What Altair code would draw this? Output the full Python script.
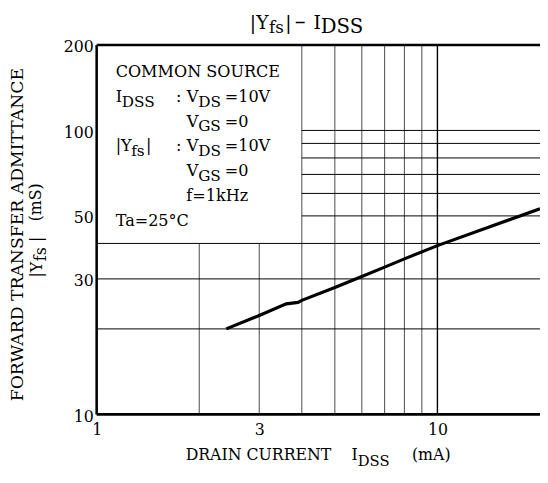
import altair as alt
import pandas as pd

# ---- data ----
idss = [2.4, 3.0, 3.6, 3.9, 4.0, 5.0, 6.0, 7.0, 8.0, 10.0, 20.0]
yfs = [20.0, 22.3, 24.5, 24.8, 25.2, 28.0, 30.6, 33.0, 35.3, 39.3, 53.0]

x_ticks = [1, 3, 10]
y_ticks = [10, 30, 50, 100, 200]
x_domain = [1, 20]
y_domain = [10, 200]

# grid structure
vgrid_short_x = [2, 3]          # from 10 up to 40 mS
vgrid_full_x = [4, 5, 6, 7, 8, 9]
vgrid_main_x = [10]
hgrid_full_y = [20, 30, 40]     # across the whole width
hgrid_part_y = [50, 60, 70, 80, 90, 100]  # from 4 mA to the right

FONT = "DejaVu Serif"
X0, Y0 = 98, 42  # page position of the plot origin
W, H = 450, 375

xs = alt.Scale(type="log", domain=x_domain, nice=False)
ys = alt.Scale(type="log", domain=y_domain, nice=False)
xaxis = alt.Axis(values=x_ticks, title=None, grid=False, domain=False, ticks=False,
                 labelFont=FONT, labelFontSize=16, labelColor="black", labelPadding=7,
                 labelFlush=False, labelOverlap=False, format="~g")
yaxis = alt.Axis(values=y_ticks, title=None, grid=False, domain=False, ticks=False,
                 labelFont=FONT, labelFontSize=16, labelColor="black", labelPadding=3.5,
                 labelBaseline="middle", labelOffset=2, labelFlush=False,
                 labelOverlap=False, format="~g")


def X(f):
    return alt.X(f, type="quantitative", scale=xs, axis=xaxis)


def Y(f):
    return alt.Y(f, type="quantitative", scale=ys, axis=yaxis)


vg = pd.DataFrame({
    "gx": vgrid_short_x + vgrid_full_x,
    "gy1": [y_domain[0]] * (len(vgrid_short_x) + len(vgrid_full_x)),
    "gy2": [40] * len(vgrid_short_x) + [y_domain[1]] * len(vgrid_full_x),
})
vg_main = pd.DataFrame({"gx": vgrid_main_x, "gy1": [y_domain[0]], "gy2": [y_domain[1]]})
hg = pd.DataFrame({
    "hy": hgrid_full_y + hgrid_part_y,
    "hx1": [x_domain[0]] * len(hgrid_full_y) + [4] * len(hgrid_part_y),
    "hx2": [x_domain[1]] * (len(hgrid_full_y) + len(hgrid_part_y)),
})
frame_h = pd.DataFrame({"hy": [y_domain[0], y_domain[1]],
                        "hx1": [x_domain[0]] * 2, "hx2": [x_domain[1]] * 2})
frame_v = pd.DataFrame({"gx": [x_domain[0]], "gy1": [y_domain[0]], "gy2": [y_domain[1]]})
curve = pd.DataFrame({"idss": idss, "yfs": yfs})

layers = []
layers.append(alt.Chart(vg).mark_rule(color="#4a4a4a", strokeWidth=1).encode(
    x=X("gx"), y=Y("gy1"), y2="gy2"))
layers.append(alt.Chart(vg_main).mark_rule(color="black", strokeWidth=1.4).encode(
    x=X("gx"), y=Y("gy1"), y2="gy2"))
layers.append(alt.Chart(hg).mark_rule(color="black", strokeWidth=1).encode(
    y=Y("hy"), x=X("hx1"), x2="hx2"))
layers.append(alt.Chart(frame_h).mark_rule(color="black", strokeWidth=2.6).encode(
    y=Y("hy"), x=X("hx1"), x2="hx2"))
layers.append(alt.Chart(frame_v).mark_rule(color="black", strokeWidth=2.6).encode(
    x=X("gx"), y=Y("gy1"), y2="gy2"))
layers.append(alt.Chart(curve).mark_line(color="black", strokeWidth=3.2).encode(
    x=X("idss"), y=Y("yfs")))

one = pd.DataFrame({"a": [0]})


def txt(s, px, py, size=16.3, angle=0, align="left"):
    return alt.Chart(one).mark_text(
        text=s, font=FONT, fontSize=size, align=align, baseline="alphabetic",
        angle=angle, color="black").encode(x=alt.value(px - X0), y=alt.value(py - Y0))


# title |Yfs| - IDSS
layers += [
    txt("|Y", 253.5, 26, 19), txt("fs", 273, 29.5, 17), txt("|", 289.5, 26, 19),
    txt("\u2013", 299, 26, 22), txt("I", 318, 26, 19), txt("DSS", 325.5, 29.5, 20),
]

# condition box
r = [74.3, 99.5, 124.8, 150.1, 175.4, 200.7, 226.0]
S = 5
SUB = 15.5
layers += [
    txt("COMMON SOURCE", 117.3, r[0]),
    txt("I", 117.3, r[1]), txt("DSS", 123.5, r[1] + S, SUB),
    txt(":", 178.5, r[1]), txt("V", 189.5, r[1]), txt("DS", 201, r[1] + S, SUB), txt("=10V", 228, r[1]),
    txt("V", 189.5, r[2]), txt("GS", 201, r[2] + S, SUB), txt("=0", 228, r[2]),
    txt("|Y", 117.3, r[3]), txt("fs", 133, r[3] + S, SUB), txt("|", 148, r[3]),
    txt(":", 178.5, r[3]), txt("V", 189.5, r[3]), txt("DS", 201, r[3] + S, SUB), txt("=10V", 228, r[3]),
    txt("V", 189.5, r[4]), txt("GS", 201, r[4] + S, SUB), txt("=0", 228, r[4]),
    txt("f=1kHz", 189, r[5]),
    txt("Ta=25\u00b0C", 117.3, r[6]),
]

# x-axis title
layers += [
    txt("DRAIN CURRENT", 188.3, 463.3, 16),
    txt("I", 356.7, 463.3, 16), txt("DSS", 363, 469.5, 15),
    txt("(mA)", 418, 463.3, 16),
]

# y-axis title (rotated)
layers += [
    txt("FORWARD TRANSFER ADMITTANCE", 23, 234.5, 17.5, angle=270, align="center"),
    txt("|Y", 43, 278, 16, angle=270), txt("fs", 46.5, 261.5, 16, angle=270),
    txt("|", 43, 242, 16, angle=270),
    txt("(mS)", 42, 221, 16, angle=270),
]

chart = alt.layer(*layers).properties(
    width=W, height=H,
    autosize=alt.AutoSizeParams(type="none"),
    padding={"left": X0 - 8, "top": Y0 - 8, "right": 0, "bottom": 56},
).configure_view(strokeWidth=0)

chart.save("out.html", embed_options={"renderer": "svg", "actions": False})
